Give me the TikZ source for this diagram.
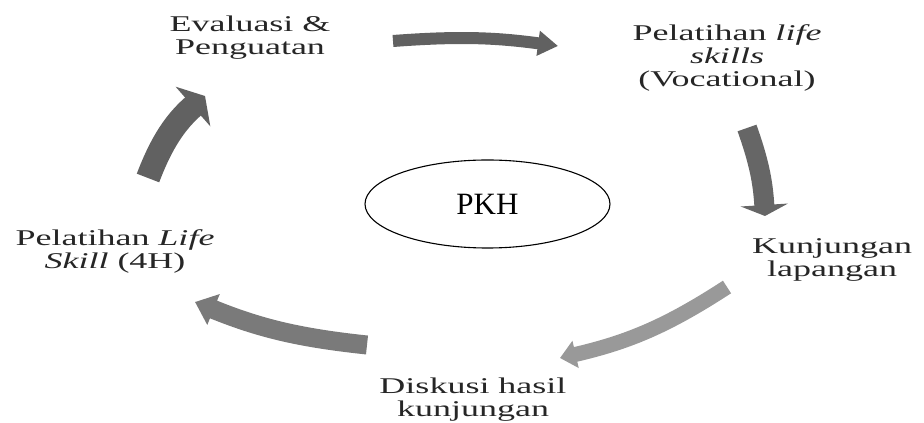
\documentclass[tikz,border=0pt]{standalone}
\usepackage{fontspec}
\setmainfont{Liberation Serif}
\newfontfamily\lblfont[FakeStretch=1.6]{Liberation Serif}
\usepackage{tikz}
\usetikzlibrary{arrows.meta}
\usetikzlibrary{shapes.geometric}
\tikzset{lbl/.style={font=\lblfont\fontsize{22.5}{23}\selectfont,align=center,inner sep=0pt,text=black!85}}
\tikzset{arr/.style={draw=black!60,line cap=butt}}
\begin{document}
\begin{tikzpicture}[line join=round,x=1pt,y=1pt]
            \useasboundingbox (0,0) rectangle (924,423);
            % labels
            \node[lbl] (eval) at (250,385) {Evaluasi \&\\Penguatan};
            \node[lbl] (voc) at (727,365) {Pelatihan \textit{life}\\\textit{skills}\\(Vocational)};
            \node[lbl] (kunj) at (832,163) {Kunjungan\\lapangan};
            \node[lbl] (disk) at (473,23) {Diskusi hasil\\kunjungan};
            \node[lbl] (lsk) at (115,172) {Pelatihan \textit{Life}\\\textit{Skill} (4H)};
            \node[draw,ellipse,line width=1.1pt,minimum width=245pt,minimum height=88pt,inner sep=0pt,
                  font=\fontsize{31}{31}\selectfont] (pkh) at (487.5,219) {PKH};
            % arrow ends
            \coordinate (a1s) at (393,382); \coordinate (a1e) at (558,377);
            \coordinate (a2s) at (747,295); \coordinate (a2e) at (765,207);
            \coordinate (a3s) at (727,136); \coordinate (a3e) at (560,65);
            \coordinate (a4s) at (367,78);  \coordinate (a4e) at (195,121);
            \coordinate (a5s) at (148,245); \coordinate (a5e) at (205,327);
            % arrows
            \draw[arr,black!62,line width=12pt,-{Triangle[width=24pt,length=20pt]}] (a1s) to[bend left=6] (a1e);
            \draw[arr,black!60,line width=20pt,-{Triangle[width=47pt,length=11pt]}] (a2s) to[bend left=8] (a2e);
            \draw[arr,black!40,line width=15pt,-{Triangle[width=27pt,length=16pt]}] (a3s) to[bend left=10] (a3e);
            \draw[arr,black!52,line width=19pt,-{Triangle[width=32pt,length=20pt]}] (a4s) to[bend left=8] (a4e);
            \draw[arr,black!62,line width=24pt,-{Triangle[width=52pt,length=16pt]}] (a5s) to[bend left=14] (a5e);
          \end{tikzpicture}
\end{document}
